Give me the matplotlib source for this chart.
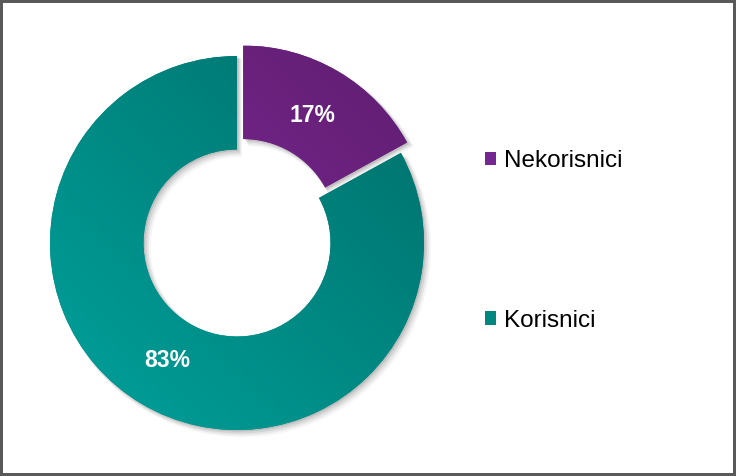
import numpy as np
import matplotlib
matplotlib.use("Agg")
from matplotlib import pyplot as plt
from matplotlib.colors import LinearSegmentedColormap
from matplotlib.patches import Wedge, Rectangle

labels = ['Nekorisnici', 'Korisnici']
shares = [17, 83]
base_colors = ['#742790', '#00887F']
light_colors = ['#8A2DA6', '#00A29C']
dark_colors = ['#5E1D6E', '#006F6A']

plt.rcParams['font.family'] = ['Liberation Sans', 'DejaVu Sans']

W, H = 736, 476
R = 187.0
cx, cy = 237, 243

fig = plt.figure(figsize=(W / 100, H / 100), dpi=100)
ax = fig.add_axes([0, 0, 1, 1])
ax.set_xlim(-cx / R, (W - cx) / R)
ax.set_ylim(-(H - cy) / R, cy / R)
ax.set_aspect('equal')
ax.axis('off')

wedges, texts, autotexts = ax.pie(
    shares, labels=None, colors=base_colors, startangle=90, counterclock=False,
    explode=[0.065, 0], radius=1, autopct='%d%%', pctdistance=0.73,
    wedgeprops=dict(width=0.50, linewidth=0),
    textprops=dict(color='white', fontsize=16.5, fontweight='bold'))

# soft shadow
for w in wedges:
    for k, a in zip(range(4), [0.10, 0.08, 0.06, 0.04]):
        off = 0.008 + 0.006 * k
        sh = Wedge((w.center[0] + off, w.center[1] - off), w.r + 0.004 * k,
                   w.theta1, w.theta2, width=w.width + 0.008 * k,
                   facecolor='black', alpha=a, linewidth=0, zorder=0)
        ax.add_patch(sh)

# diagonal gradient inside each wedge
gx, gy = np.meshgrid(np.linspace(0, 1, 200), np.linspace(0, 1, 200))
grad = (gx + gy) / 2
for w, lc, dc in zip(wedges, light_colors, dark_colors):
    cmap = LinearSegmentedColormap.from_list('g', [lc, dc])
    x0, y0 = w.center[0] - w.r, w.center[1] - w.r
    im = ax.imshow(grad, cmap=cmap, origin='lower', interpolation='bilinear',
                   extent=[x0, x0 + 2 * w.r, y0, y0 + 2 * w.r], zorder=2)
    im.set_clip_path(w)
    w.set_zorder(1)
for t in autotexts:
    t.set_zorder(3)

ax.set_xlim(-cx / R, (W - cx) / R)
ax.set_ylim(-(H - cy) / R, cy / R)

fig.legend(wedges, labels, loc='center left', bbox_to_anchor=(485 / W, (H - 241) / H),
           frameon=False, fontsize=17.5, handlelength=0.46, handleheight=0.46,
           handletextpad=0.33, labelspacing=5.65, borderpad=0, borderaxespad=0)

fig.patches.append(Rectangle((0, 0), 1, 1, transform=fig.transFigure, fill=False,
                             edgecolor='#595959', linewidth=4.3))

fig.savefig('out.png', dpi=100)
